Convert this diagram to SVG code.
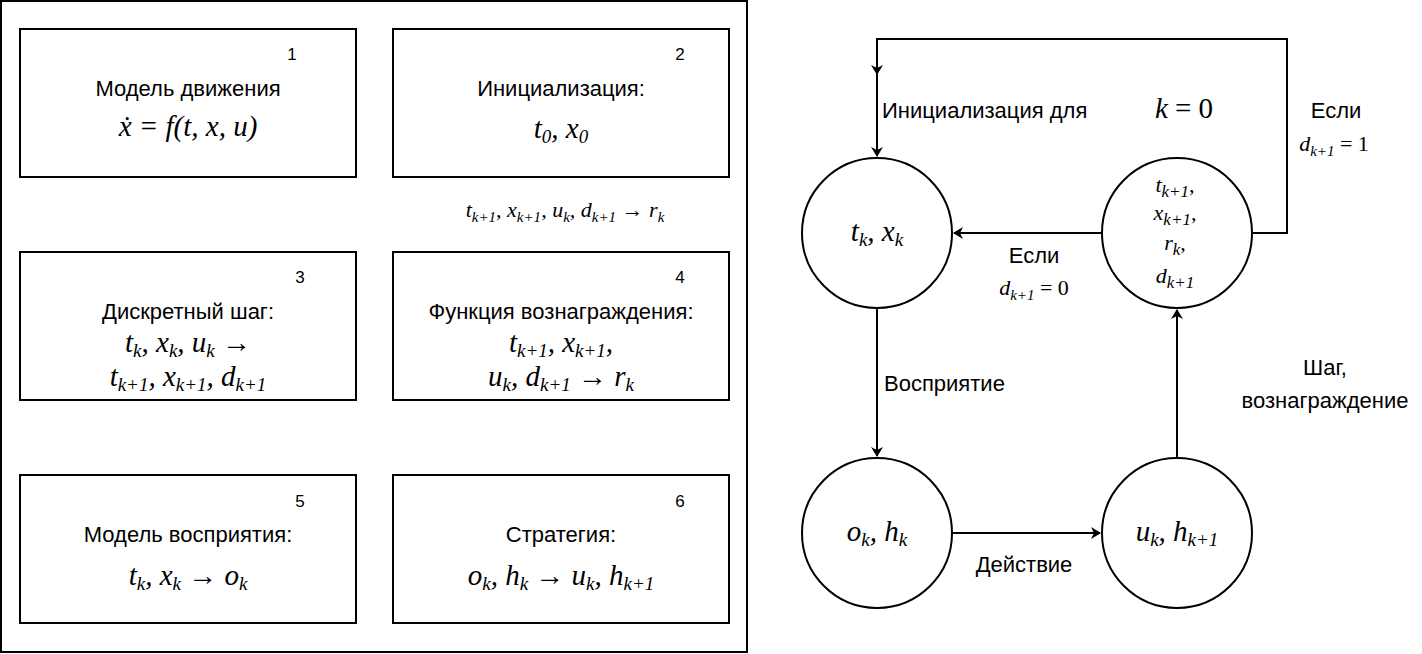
<svg xmlns="http://www.w3.org/2000/svg" width="1422" height="654" viewBox="0 0 1422 654">
<style>
.b{fill:#fff;stroke:#000;stroke-width:2}
.t{font-family:"Liberation Sans",Arial,sans-serif;font-size:22px;text-anchor:middle}
.l{font-family:"Liberation Sans",Arial,sans-serif;font-size:22px;text-anchor:start}
.n{font-family:"Liberation Sans",Arial,sans-serif;font-size:17px;text-anchor:middle}
.m{font-family:"Liberation Serif","Times New Roman",serif;font-size:29px;font-style:italic;text-anchor:middle}
.s{font-family:"Liberation Serif","Times New Roman",serif;font-size:22px;font-style:italic;text-anchor:middle}
.c{fill:none;stroke:#000;stroke-width:2}
</style>
<defs><marker id="a" markerWidth="10" markerHeight="14" refX="9" refY="7" orient="auto" markerUnits="userSpaceOnUse"><path d="M0,1L10,7L0,13L3,7z"/></marker></defs>
<rect x="1" y="1" width="746" height="651" fill="#fff" stroke="#000" stroke-width="2"/>
<g id="box1"><rect class="b" x="20" y="29" width="336" height="148"/><text class="n" x="292" y="60">1</text><text class="t" x="188" y="96">Модель движения</text><text class="m" x="188" y="136">ẋ = f(t, x, u)</text></g>
<g id="box2"><rect class="b" x="393" y="29" width="336" height="148"/><text class="n" x="680" y="60">2</text><text class="t" x="561" y="96">Инициализация:</text><text class="m" x="561" y="138">t<tspan font-size="19" dy="5">0</tspan><tspan dy="-5">, x</tspan><tspan font-size="19" dy="5">0</tspan></text></g>
<text class="s" x="565" y="217">t<tspan font-size="15" dy="5">k+1</tspan><tspan dy="-5">, x</tspan><tspan font-size="15" dy="5">k+1</tspan><tspan dy="-5">, u</tspan><tspan font-size="15" dy="5">k</tspan><tspan dy="-5">, d</tspan><tspan font-size="15" dy="5">k+1</tspan><tspan dy="-5" font-style="normal"> → </tspan><tspan>r</tspan><tspan font-size="15" dy="5">k</tspan></text>
<g id="box3"><rect class="b" x="20" y="252" width="336" height="148"/><text class="n" x="300" y="283">3</text><text class="t" x="188" y="319">Дискретный шаг:</text><text class="m" x="188" y="352">t<tspan font-size="19" dy="5">k</tspan><tspan dy="-5">, x</tspan><tspan font-size="19" dy="5">k</tspan><tspan dy="-5">, u</tspan><tspan font-size="19" dy="5">k</tspan><tspan dy="-5" font-style="normal"> →</tspan></text><text class="m" x="188" y="386">t<tspan font-size="19" dy="5">k+1</tspan><tspan dy="-5">, x</tspan><tspan font-size="19" dy="5">k+1</tspan><tspan dy="-5">, d</tspan><tspan font-size="19" dy="5">k+1</tspan></text></g>
<g id="box4"><rect class="b" x="393" y="252" width="336" height="148"/><text class="n" x="680" y="283">4</text><text class="t" x="561" y="319">Функция вознаграждения:</text><text class="m" x="561" y="352">t<tspan font-size="19" dy="5">k+1</tspan><tspan dy="-5">, x</tspan><tspan font-size="19" dy="5">k+1</tspan><tspan dy="-5">,</tspan></text><text class="m" x="561" y="386">u<tspan font-size="19" dy="5">k</tspan><tspan dy="-5">, d</tspan><tspan font-size="19" dy="5">k+1</tspan><tspan dy="-5" font-style="normal"> → </tspan><tspan>r</tspan><tspan font-size="19" dy="5">k</tspan></text></g>
<g id="box5"><rect class="b" x="20" y="475" width="336" height="148"/><text class="n" x="300" y="507">5</text><text class="t" x="188" y="542">Модель восприятия:</text><text class="m" x="188" y="585">t<tspan font-size="19" dy="5">k</tspan><tspan dy="-5">, x</tspan><tspan font-size="19" dy="5">k</tspan><tspan dy="-5" font-style="normal"> → </tspan><tspan>o</tspan><tspan font-size="19" dy="5">k</tspan></text></g>
<g id="box6"><rect class="b" x="393" y="475" width="336" height="148"/><text class="n" x="680" y="507">6</text><text class="t" x="561" y="542">Стратегия:</text><text class="m" x="561" y="585">o<tspan font-size="19" dy="5">k</tspan><tspan dy="-5">, h</tspan><tspan font-size="19" dy="5">k</tspan><tspan dy="-5" font-style="normal"> → </tspan><tspan>u</tspan><tspan font-size="19" dy="5">k</tspan><tspan dy="-5">, h</tspan><tspan font-size="19" dy="5">k+1</tspan></text></g>
<g id="edges">
<path class="c" d="M1252,233H1287V39H877V156" marker-end="url(#a)"/>
<path class="c" d="M877,62V74" marker-end="url(#a)"/>
<path class="c" d="M1102,233H954" marker-end="url(#a)"/>
<path class="c" d="M877,308V456" marker-end="url(#a)"/>
<path class="c" d="M952,533H1100" marker-end="url(#a)"/>
<path class="c" d="M1177,458V310" marker-end="url(#a)"/>
</g>
<g id="n1"><circle class="b" cx="877" cy="233" r="75"/><text class="m" x="877" y="241">t<tspan font-size="19" dy="5">k</tspan><tspan dy="-5">, x</tspan><tspan font-size="19" dy="5">k</tspan></text></g>
<g id="n2"><circle class="b" cx="1177" cy="233" r="75"/><text class="s" x="1175" y="192" font-size="25">t<tspan font-size="17" dy="5">k+1</tspan><tspan dy="-5">,</tspan></text><text class="s" x="1175" y="220" font-size="25">x<tspan font-size="17" dy="5">k+1</tspan><tspan dy="-5">,</tspan></text><text class="s" x="1175" y="250" font-size="25">r<tspan font-size="17" dy="5">k</tspan><tspan dy="-5">,</tspan></text><text class="s" x="1175" y="283" font-size="25">d<tspan font-size="17" dy="5">k+1</tspan></text></g>
<g id="n3"><circle class="b" cx="877" cy="533" r="75"/><text class="m" x="877" y="541">o<tspan font-size="19" dy="5">k</tspan><tspan dy="-5">, h</tspan><tspan font-size="19" dy="5">k</tspan></text></g>
<g id="n4"><circle class="b" cx="1177" cy="533" r="75"/><text class="m" x="1177" y="541">u<tspan font-size="19" dy="5">k</tspan><tspan dy="-5">, h</tspan><tspan font-size="19" dy="5">k+1</tspan></text></g>
<g id="labels">
<text class="l" x="882" y="118">Инициализация для</text><text class="m" x="1184" y="118">k <tspan font-style="normal">= 0</tspan></text>
<text class="t" x="1336" y="118">Если</text><text class="s" x="1334" y="151">d<tspan font-size="15" dy="5">k+1</tspan><tspan dy="-5" font-style="normal"> = 1</tspan></text>
<text class="t" x="1034" y="263">Если</text><text class="s" x="1034" y="295">d<tspan font-size="15" dy="5">k+1</tspan><tspan dy="-5" font-style="normal"> = 0</tspan></text>
<text class="l" x="884" y="391">Восприятие</text>
<text class="t" x="1024" y="572">Действие</text>
<text class="t" x="1325" y="375">Шаг,</text><text class="t" x="1325" y="408">вознаграждение</text>
</g>
</svg>
